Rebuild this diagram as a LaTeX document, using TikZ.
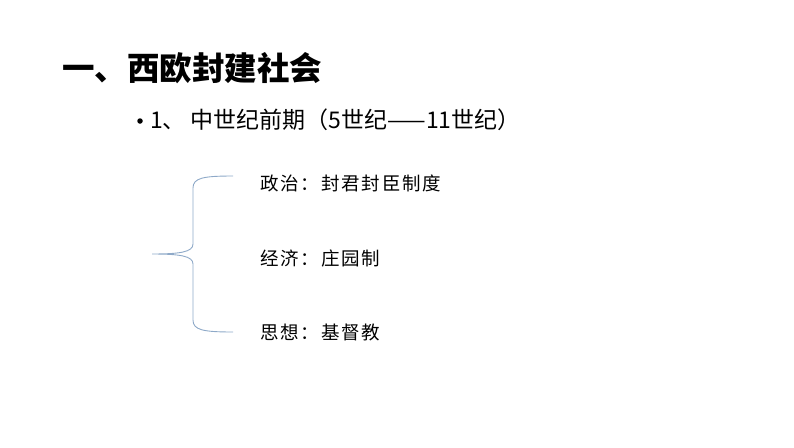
\documentclass[tikz,border=0pt]{standalone}
\usepackage{fontspec}
\setmainfont{Noto Sans CJK SC}
\newfontfamily\cjk{Noto Sans CJK SC}
\newfontfamily\cjkitem[LetterSpace=10]{Noto Sans CJK SC}
\usepackage{xcolor}
\usetikzlibrary{positioning}
\definecolor{bracecol}{HTML}{8EA9C8}

\begin{document}
\begin{tikzpicture}[x=1pt, y=-1pt,
  every node/.style={inner sep=0pt, outer sep=0pt},
  title/.style={anchor=west, font=\cjk\bfseries\fontsize{32.5}{36}\selectfont},
  sub/.style={anchor=west, font=\cjk\fontsize{23}{27}\selectfont},
  item/.style={anchor=west, font=\cjkitem\fontsize{18.5}{22}\selectfont},
  brace/.style={draw=bracecol, line width=0.9pt}]
  \useasboundingbox (0,0) rectangle (794,447);
  \node[title] (head) at (62,68) {一、西欧封建社会};
  \node[circle, fill=black, minimum size=5.5pt] (dot) at (140,121) {};
  \node[sub] (period) at (150,120) {1、 中世纪前期（5世纪——11世纪）};

  \node[item] (pol) at (260,183) {政治：封君封臣制度};
  \node[item] (eco) at (260,258) {经济：庄园制};
  \node[item] (rel) at (260,332) {思想：基督教};

  % brace ends
  \coordinate (btop) at (233,176);
  \coordinate (bbot) at (233,332);
  \coordinate (btip) at (152,254);
  \draw[brace] (btop) .. controls (203,176) and (193,178) .. (193,188) -- (193,244)
    .. controls (193,252) and (180,254) .. (btip)
    .. controls (180,254) and (193,256) .. (193,264) -- (193,320)
    .. controls (193,330) and (203,332) .. (bbot);
\end{tikzpicture}
\end{document}
